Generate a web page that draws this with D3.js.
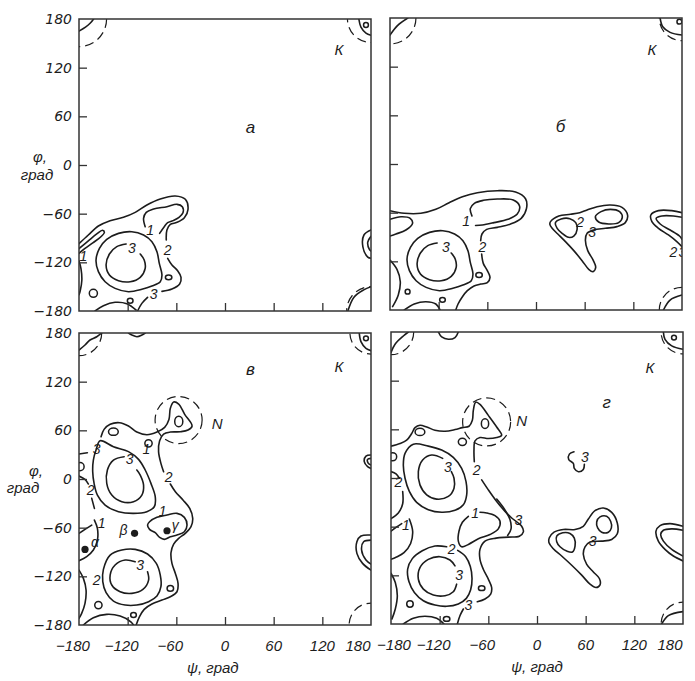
<!DOCTYPE html>
<html>
<head>
<meta charset="utf-8">
<script src="https://cdn.jsdelivr.net/npm/d3@7"></script>
<style>
body { margin: 0; background: #fff; }
</style>
</head>
<body>
<script>
// ticks (degrees)
var tickValues = [-180, -120, -60, 0, 60, 120, 180];
var innerTicks = [-120, -60, 0, 60, 120];

// ---------- shared left region of а and б ----------
var ringAB = [[-145.8,-91.7],[-131.3,-84.3],[-114.9,-82.2],[-100.4,-86.3],[-90.1,-94.5],[-83.9,-106.9],[-81,-121.3],[-77.7,-135.6],[-79.8,-143.9],[-90.1,-149.2],[-102.5,-153.3],[-119,-156.2],[-135.5,-152.1],[-147.8,-143.9],[-156.1,-131.5],[-159,-117.1],[-154.8,-102.8]];
var coreAB = [[-121.9,-97.4],[-133.4,-100.7],[-142.5,-109.7],[-146.6,-123.3],[-142.5,-135.6],[-131.3,-142.6],[-116.9,-143.9],[-104.5,-138.5],[-98.4,-127.4],[-99.6,-117.1],[-104.5,-109.7]];

// ---------- panel а ----------
var aOpen = [
  [[-180,-97],[-168.5,-86.3],[-156.1,-75.2],[-141.7,-68.6],[-125.2,-64.5],[-110.7,-58.4],[-96.3,-49.3],[-79.8,-41.9],[-61.3,-38.2],[-48.9,-42.3],[-45.6,-54.7],[-50.1,-65],[-59.2,-70.7],[-67.4,-73.2],[-71.6,-80.2],[-72.4,-92.5]],
  [[-70.7,-115.1],[-65.4,-123.3],[-58.4,-130.3],[-54.2,-138.5],[-55.9,-146.7],[-65.4,-152.9],[-77.7,-155.8]],
  [[-95.5,-163.2],[-102.5,-170.6],[-107.8,-180]],
  [[-98.4,-76],[-100.4,-65.8],[-97.1,-58.4],[-88,-54.3],[-71.6,-51.4],[-59.2,-48.5],[-52.6,-51.4],[-51.8,-58.8],[-56.7,-64.5],[-64.1,-68.6],[-70.7,-71.1],[-74.9,-76],[-80.6,-84.3]],
  [[-180,-103],[-168.5,-93.5],[-158.1,-85],[-151.1,-80.5],[-148.7,-83],[-153,-88.5],[-163,-96],[-173,-103],[-180,-109]],
  [[-180,-118],[-177.5,-128],[-176.5,-142],[-178.5,-155],[-180,-160]],
  [[-160.2,-180],[-149.9,-173.5],[-135.5,-169.3],[-121,-171],[-109.5,-178.8]],
  [[-180,165],[-172,170],[-166,175],[-162,180]],
  [[165,180],[167.6,170],[173.8,162.7],[180,160]],
  [[151.5,-180],[159,-163],[171,-154],[180,-150]],
  [[180,-80],[171.3,-86.3],[170,-101],[176,-113.5],[180,-115]],
  [[180,-88],[176,-95],[178,-104],[180,-106]],
  coreAB
];
var aClosed = [ringAB];
var aLoops = [[-69.5,-138.5,4,3],[-116.9,-167.3,3.5,3],[-162.3,-158.2,5,5],[173.8,172.6,3,3]];
var aDashed = [[-180,180,34],[180,180,29],[180,-180,30]];
var aLabels = [[140.4,141.8,"К"],[-92.2,-80.2,"1"],[-70.7,-104.8,"2"],[-114.9,-102.8,"3"],[-88.1,-159.5,"3"],[-174.6,-112.2,"1"]];

// ---------- panel б ----------
var bOpen = [
  [[-180,-57.6],[-162.4,-60.8],[-141.9,-60.8],[-123.5,-55.9],[-107.1,-47.7],[-90.7,-40.3],[-72.3,-35.4],[-47.7,-32.9],[-25.2,-34.5],[-12.9,-42.8],[-11.7,-54.7],[-18.2,-67],[-31.3,-74],[-47.7,-78.1],[-60.8,-80.6],[-66.6,-86.3],[-68.2,-94.5]],
  [[-67,-111],[-65,-122.5],[-60,-131.5],[-56.7,-139.8],[-60,-146.3],[-68.2,-148],[-76.4,-150.4],[-84.6,-156.2],[-90.7,-163.6],[-96.1,-172.6],[-98.9,-180]],
  [[-79,-64],[-81,-55],[-76,-48.5],[-65,-44.8],[-47.7,-43.2],[-28,-44.4],[-20.3,-51.8],[-23.1,-61.7],[-34.6,-68.2],[-51.8,-72.3],[-66.2,-75.2],[-74.5,-75.8]],
  [[-180,-68.2],[-166.5,-65],[-155.1,-67],[-152.2,-73.2],[-160.4,-81.4],[-172.7,-86.3],[-180,-88.8]],
  [[-180,-118.4],[-171.4,-129.9],[-167.3,-145.1],[-169.8,-161.5],[-176.8,-175.9]],
  [[-162.4,-180],[-150.1,-172.6],[-135.8,-169.8],[-123.5,-172.6],[-118.2,-180]],
  [[-180,159],[-170.5,171],[-158,180]],
  [[153,180],[156.3,169.3],[165.3,162.3],[180,159]],
  [[157.1,-180],[165.3,-167.7],[180,-161.5]],
  [[180,-60],[167.4,-57.5],[151,-57.5],[141.6,-62.9],[142.9,-71.1],[151,-79.3],[163.3,-87.5],[173.6,-95.7],[180,-101.9]],
  [[180,-65.7],[169.5,-64.1],[155.1,-64.1],[148.2,-67],[153.1,-74],[165.4,-81.4],[176.9,-88.8],[180,-92.9]],
  coreAB
];
var bClosed = [
  ringAB,
  [[17.9,-71.1],[28.1,-64.1],[42.5,-62],[53.9,-60],[63,-56.7],[75.3,-52.6],[91.6,-50.5],[106,-53.4],[112.9,-62.9],[110.1,-72.3],[99.8,-77.2],[85.5,-79.3],[71.2,-81.4],[63,-85.5],[60.9,-93.7],[63.8,-106.8],[70.3,-118.3],[73.6,-127.4],[70.3,-132.7],[65,-129.8],[56.8,-119.2],[46.6,-106.8],[36.3,-95.7],[26.9,-86.3],[19.9,-79.3],[17.1,-74.4]],
  [[73.2,-64.9],[80.2,-58.7],[91.6,-55.9],[103.1,-58.7],[106.4,-65.7],[101.9,-72.3],[89.6,-73.9],[77.3,-71.5]],
  [[24,-72.3],[31,-67.8],[41.7,-67.4],[49,-72.3],[50.7,-80.5],[46.6,-88.8],[40,-90.4],[32.2,-85.5],[26.1,-79.3]]
];
var bLoops = [[-70.2,-136.9,4,3],[-115.3,-167.5,3.5,3],[-158.3,-157.4,3,3],[176.8,175.5,3,3]];
var bDashed = [[-180,180,32],[180,180,28],[180,-180,28]];
var bLabels = [[142.8,140.6,"К"],[-86,-70,"1"],[-66.2,-102.8,"2"],[-111.2,-102,"3"],[54.5,-71.5,"2"],[69.1,-84,"3"],[169.5,-108,"2"],[180.5,-108,"3"]];

// ---------- panel в ----------
var cOpen = [
  [[-180,30.8],[-169.7,32.4]],
  [[-152.8,52.2],[-149.1,61.2],[-141.6,67.4],[-130.1,69.4],[-119,65.3],[-108.7,57.9],[-96.3,54.6],[-83.9,57.9],[-74.4,63.7],[-69.1,73.5],[-67.4,87.1],[-63.3,94.9],[-57.1,92.4],[-49.7,79.7],[-40.6,65.3],[-45.6,60.4],[-55,58.3],[-67.4,57.9],[-75.7,55.4],[-80.6,47.2],[-81.9,33.7],[-79,19.3],[-75.7,9]],
  [[-67.4,-6.2],[-61.2,-15.7],[-51.8,-25.9],[-43.5,-36.2],[-39.8,-48.5],[-41.9,-58.8],[-48.9,-67],[-57.1,-73.2],[-63.3,-80.2],[-66.6,-90.9],[-65.4,-104],[-61.2,-116.4],[-57.9,-128.7],[-59.2,-139],[-67.4,-145.1],[-77.7,-149.2],[-90.1,-154.2],[-99.6,-160.7],[-105.4,-169.8],[-109.5,-180]],
  [[-124.3,27.5],[-137.5,23.4],[-145,11.1],[-145.8,-5.4],[-139.6,-19.8],[-127.2,-28],[-112.8,-28],[-102.5,-19.8],[-100.4,-7.4],[-104.5,4.9],[-108.7,11.1]],
  [[-110.7,-102],[-123.1,-99.9],[-135.5,-106.1],[-141.6,-118.4],[-139.6,-130.7],[-129.3,-139],[-114.8,-141],[-101.2,-136.1],[-94.2,-124.6],[-95.5,-114.3]],
  [[-180,3.7],[-172.6,-0.5],[-168.4,-6.2]],
  [[-164.3,-23.9],[-161,-36.2]],
  [[-161,-50.6],[-157.3,-60.9],[-157.3,-75.3],[-162.3,-87.6],[-170.5,-95.8],[-180,-100.7]],
  [[-180,-67],[-172.6,-62.1],[-164.3,-56.8]],
  [[-180,-112.3],[-174.6,-122.5],[-171.3,-136.9],[-172.6,-153.4],[-176.7,-165.7],[-180,-171.8]],
  [[-174.6,-180],[-162.3,-171],[-145.8,-166.9],[-129.3,-169],[-116.1,-176],[-112.8,-180]],
  [[-180,159],[-172.6,165.2],[-166.4,171.4],[-158.1,175.4],[-152,180]],
  [[-119,180],[-114.8,177.5],[-108.6,175.4],[-102.4,177.5],[-98.4,180]],
  [[165.5,180],[167.6,169.3],[173.8,161.1],[180,158.2]],
  [[180,29.5],[173.8,28.3],[171.7,21.3],[175.8,15.2],[180,13.1]],
  [[180,25.4],[175.8,24.2],[176.7,19.3],[180,17.2]],
  [[180,-69.1],[167.6,-70.3],[162.6,-77.3],[162.6,-91.7],[169.6,-104],[180,-112.3]],
  [[180,-75.3],[170.9,-77.3],[168.4,-87.6],[173.8,-99.9],[180,-104.9]]
];
var cClosed = [
  [[-154,47.2],[-137.5,39.8],[-119,33.7],[-106.6,24.2],[-98.4,11.1],[-91.3,-5.4],[-86,-21.8],[-87.2,-34.2],[-96.3,-40.3],[-112.8,-42.4],[-131.3,-40.3],[-147.8,-32.1],[-157.3,-19.8],[-161.4,-5.4],[-163.1,9],[-162.3,23.4],[-159,35.7]],
  [[-141.6,-93.8],[-127.2,-87.6],[-110.7,-86.8],[-95.5,-92.5],[-84.7,-104],[-79.8,-118.4],[-79,-132.8],[-83.9,-144.3],[-94.2,-151.3],[-108.7,-155.4],[-123.1,-155.4],[-137.5,-150.5],[-146.6,-140.2],[-150.7,-126.6],[-149.9,-111.4]],
  [[-93,-52.7],[-83.9,-47.3],[-71.5,-44.4],[-59.2,-42.4],[-50.1,-47.3],[-46.8,-56.8],[-50.1,-65],[-59.2,-69.1],[-67.4,-71.2],[-74.8,-74.4],[-80.6,-72],[-86,-66.2],[-93,-62.1],[-95.5,-56.8]]
];
var cLoops = [[-57,71,5,6.5],[-137.6,58.3,6,4.5],[-94.3,44,4.5,4.5],[-178.7,15.2,5,5],[-67.4,-134.9,4,3.5],[-156.1,-155.4,4.5,4.5],[-112.8,-167.7,3.5,3],[173.8,173.4,3,3]];
var cDashed = [[-180,180,28],[180,180,26],[180,-180,27],[-57.2,72.7,29]];
var cLabels = [[140.4,138.4,"К"],[-9.7,68.6,"N"],[-158.1,36.5,"3"],[-117.7,24.2,"3"],[-69.5,2.8,"2"],[-165.6,-13.6,"2"],[-152,-54.7,"1"],[-77,-39,"1"],[-158.1,-124.6,"2"],[-104.5,-106.1,"3"],[-97,37,"1"],[-160.2,-77.3,"α"],[-125.2,-63,"β"],[-61.2,-56.8,"γ"]];
var cPoints = [[-172.6,-86.8],[-111.5,-67],[-71.5,-63.8]];

// ---------- panel г ----------
var dOpen = [
  [[-180,39.3],[-168.9,42.5],[-160.7,46.6],[-154.5,54.8],[-150.4,62.1],[-144.3,65],[-136,62.9],[-125.8,58.9],[-113.4,57.6],[-101.1,59.7],[-92,62.1],[-83.8,63.8],[-79.7,71.1],[-78.5,83.3],[-75.6,93.5],[-70.3,90.7],[-60,77.2],[-49.7,62.9],[-43.6,52.7],[-49.7,49.9],[-60,48.7],[-70.3,49.9],[-76.4,45.8],[-77.7,34.4],[-77.3,20.1]],
  [[-68.2,-2.3],[-60,-14.6],[-49.7,-28.9],[-39.4,-41.1],[-31.2,-49.3],[-18.9,-59.5],[-16.8,-66.4],[-21.8,-71.7],[-35.3,-72.9],[-50.5,-74.1],[-64.1,-77.8],[-70.3,-88],[-70.3,-100.3],[-66.2,-112.5],[-60,-124.7],[-55.9,-135],[-57.1,-143.1],[-64.1,-149.2],[-73.6,-152.5]],
  [[-90.8,-161.5],[-94.9,-169.6],[-98.2,-180]],
  [[-49.7,-26],[-40.3,-38.2],[-33.3,-51.3],[-32,-62.7],[-36.2,-70.9]],
  [[-116.3,24.2],[-129.9,28.3],[-141,22.1],[-146.3,7.9],[-144.3,-8.5],[-136,-20.7],[-123.7,-26],[-109.3,-22.7],[-102.3,-12.5],[-102.3,-0.3],[-105.6,7.9]],
  [[-97.8,-89.2],[-87.9,-97],[-82.2,-109.2],[-80.1,-123.9],[-81.8,-137.8],[-87.1,-148.4],[-97,-155.3],[-111.4,-158.2],[-125.8,-156.6],[-140.1,-151.3],[-151.2,-141.1],[-157.8,-128],[-159.5,-112.5],[-153.7,-99.4],[-141.4,-89.7],[-125.8,-83.9],[-111.4,-84.8]],
  [[-101.1,-108.4],[-107.3,-101.1],[-119.6,-97],[-134,-100.3],[-144.3,-110.5],[-146.3,-124.7],[-140.1,-137],[-127.8,-144.3],[-113.4,-145.1],[-103.2,-140.2],[-99.1,-130.9]],
  [[-84.6,-47.2],[-92,-54.6],[-96.2,-65.6],[-97,-77.8],[-92.9,-84.8],[-84.6,-81.9],[-72.3,-75],[-57.9,-69.7],[-47.7,-62.7],[-45.6,-53.3],[-51.8,-46.4],[-62.1,-43.1],[-70.3,-42.3]],
  [[-180,7.9],[-173.8,5],[-169.7,-0.3]],
  [[-165.6,-16.6],[-165.6,-31.7],[-171,-43.1],[-180,-50.1]],
  [[-157.4,-50.5],[-153.3,-65.6],[-155.8,-80.7],[-164,-92.1],[-173.8,-97.8],[-180,-100.3]],
  [[-180,-65.6],[-173,-60.3],[-166.8,-56.2]],
  [[-180,-117.4],[-174.7,-128.8],[-172.2,-145.1],[-174.7,-161.5],[-178.8,-173.7]],
  [[-164.8,-180],[-152.5,-172.9],[-138.1,-170.4],[-123.7,-172.9],[-114.7,-180]],
  [[-121.6,180],[-117.5,173.9],[-109.3,171],[-101.1,173.1],[-97,180]],
  [[-180,154.7],[-175,165],[-164.8,175.1],[-158.6,180]],
  [[155.8,180],[157.8,171],[166.1,162.9],[180,158.8]],
  [[153.7,-180],[161.9,-169.6],[180,-164.7]],
  [[45.6,32.3],[39.9,29.4],[39.1,22.9],[44.8,18],[46,11.9],[51,7.8],[57.1,10.6],[58.4,16.8]],
  [[180,-59.5],[164,-56.2],[151.7,-58.7],[146.7,-65.6],[149.6,-77.8],[157.8,-88],[168.1,-96.2],[180,-102.3]],
  [[180,-64.4],[166.1,-62.7],[155.8,-64.4],[152.5,-69.7],[155.8,-77.8],[166.1,-88],[180,-96.2]]
];
var dClosed = [
  [[-152.5,41.7],[-134,39.3],[-117.5,34.4],[-103.2,25.4],[-92.9,11.9],[-87.5,-4.4],[-86.7,-20.7],[-90.8,-33],[-101.1,-39.9],[-117.5,-42.3],[-134,-39.1],[-148.4,-30.1],[-157.4,-16.6],[-162.7,-0.3],[-164.8,16],[-162.7,30.3]],
  [[15.2,-73.7],[21,-66.8],[32.5,-63.5],[46.9,-63.5],[57.1,-59.5],[63.3,-50.5],[71.5,-40.3],[81.8,-37],[92.1,-42.3],[99,-55.4],[99,-68.8],[92.1,-75.8],[79.7,-77.8],[65.4,-79],[59.2,-84.8],[57.1,-94.1],[61.3,-106.4],[69.5,-115.8],[76.9,-123.9],[77.7,-131.7],[72.8,-135],[65.4,-130.9],[55.1,-119.8],[42.8,-107.6],[30.4,-96.2],[20.1,-87.2],[14.8,-79.9]],
  [[24.3,-71.7],[31.7,-67.6],[40.7,-68.4],[46,-74.1],[46.9,-83.9],[43.6,-91.3],[36.6,-90],[28.4,-84.8],[24.3,-78.6]],
  [[73.6,-54.2],[77.7,-48],[85.9,-47.2],[90.8,-53.3],[91.7,-61.5],[88,-66.8],[79.7,-66.8],[74.8,-61.5]]
];
var dLoops = [[-64.1,67,4.5,6],[-144.3,56.8,6,4.5],[-92,44.6,5,4.5],[-178,26.2,5,5],[-68.2,-135.8,4,3],[-156.6,-155.3,4,4],[-111.4,-173.7,4,3],[168.9,173.1,3,3]];
var dDashed = [[-180,180,28],[180,180,27],[180,-180,27],[-62.1,69.1,29.6]];
var dLabels = [[139.3,136.4,"К"],[-18.9,71.1,"N"],[-109.7,14,"3"],[-74.4,9.9,"2"],[-171,-4.4,"2"],[-161.5,-57.4,"1"],[-76.4,-43.1,"1"],[-105.2,-87.2,"2"],[-96.1,-119.8,"3"],[-84.7,-156.6,"3"],[-23,-51.3,"3"],[59.2,26.1,"3"],[68.6,-77.8,"3"]];

// panel letters
var letters = ["а", "б", "в", "г"];
var letterPos = [[31.5,46.8],[30.1,46],[31.5,134.4],[86,93.5]];

// ---------- layout ----------
var SIZE = 292;
var layout = [
  {x0: 79,  y0: 19,  open: aOpen, closed: aClosed, loops: aLoops, dashed: aDashed, labels: aLabels, points: [], left: true,  bottom: false},
  {x0: 390, y0: 18,  open: bOpen, closed: bClosed, loops: bLoops, dashed: bDashed, labels: bLabels, points: [], left: false, bottom: false},
  {x0: 79,  y0: 333, open: cOpen, closed: cClosed, loops: cLoops, dashed: cDashed, labels: cLabels, points: cPoints, left: true,  bottom: true},
  {x0: 391, y0: 332, open: dOpen, closed: dClosed, loops: dLoops, dashed: dDashed, labels: dLabels, points: [], left: false, bottom: true}
];

var INK = "#1c1c1c";
var ITALIC = "'Liberation Sans', 'DejaVu Sans', sans-serif";

var svg = d3.select("body").append("svg")
  .attr("width", 695).attr("height", 681)
  .style("font-family", ITALIC).style("font-style", "italic");

layout.forEach(function(p, i) {
  var x = d3.scaleLinear().domain([-180, 180]).range([p.x0, p.x0 + SIZE]);
  var y = d3.scaleLinear().domain([-180, 180]).range([p.y0 + SIZE, p.y0]);

  svg.append("clipPath").attr("id", "clip" + i)
    .append("rect").attr("x", p.x0).attr("y", p.y0).attr("width", SIZE).attr("height", SIZE);

  var g = svg.append("g").attr("clip-path", "url(#clip" + i + ")");

  var lineOpen = d3.line().x(function(d) { return x(d[0]); }).y(function(d) { return y(d[1]); })
    .curve(d3.curveCatmullRom.alpha(0.5));
  var lineClosed = d3.line().x(function(d) { return x(d[0]); }).y(function(d) { return y(d[1]); })
    .curve(d3.curveCatmullRomClosed.alpha(0.5));

  // dashed circles
  g.selectAll(".dash").data(p.dashed).enter().append("ellipse")
    .attr("cx", function(d) { return x(d[0]); })
    .attr("cy", function(d) { return y(d[1]); })
    .attr("rx", function(d) { return x(d[2]) - x(0); })
    .attr("ry", function(d) { return y(0) - y(d[2]); })
    .attr("fill", "none").attr("stroke", INK).attr("stroke-width", 1.2)
    .attr("stroke-dasharray", "9,5");

  g.selectAll(".open").data(p.open).enter().append("path")
    .attr("d", lineOpen)
    .attr("fill", "none").attr("stroke", INK).attr("stroke-width", 1.6)
    .attr("stroke-linecap", "round");

  g.selectAll(".closed").data(p.closed).enter().append("path")
    .attr("d", lineClosed)
    .attr("fill", "none").attr("stroke", INK).attr("stroke-width", 1.6);

  g.selectAll(".loop").data(p.loops).enter().append("ellipse")
    .attr("cx", function(d) { return x(d[0]); })
    .attr("cy", function(d) { return y(d[1]); })
    .attr("rx", function(d) { return x(d[2]) - x(0); })
    .attr("ry", function(d) { return y(0) - y(d[3]); })
    .attr("fill", "none").attr("stroke", INK).attr("stroke-width", 1.5);

  g.selectAll(".pt").data(p.points).enter().append("circle")
    .attr("cx", function(d) { return x(d[0]); })
    .attr("cy", function(d) { return y(d[1]); })
    .attr("r", 3.6).attr("fill", INK);

  g.selectAll(".lbl").data(p.labels).enter().append("text")
    .attr("x", function(d) { return x(d[0]); })
    .attr("y", function(d) { return y(d[1]); })
    .attr("text-anchor", "middle").attr("dominant-baseline", "central")
    .attr("font-size", function(d) { return d[2] === "К" || d[2] === "N" ? 15 : 14; })
    .attr("fill", INK)
    .text(function(d) { return d[2]; });

  g.append("text")
    .attr("x", x(letterPos[i][0])).attr("y", y(letterPos[i][1]))
    .attr("text-anchor", "middle").attr("dominant-baseline", "central")
    .attr("font-size", 17).attr("fill", INK)
    .text(letters[i]);

  // frame
  svg.append("rect").attr("x", p.x0).attr("y", p.y0).attr("width", SIZE).attr("height", SIZE)
    .attr("fill", "none").attr("stroke", "#333").attr("stroke-width", 1.5);

  // inward ticks
  var yAxis = d3.axisLeft(y).tickValues(innerTicks).tickSizeInner(-8).tickSizeOuter(0).tickFormat("");
  var xAxis = d3.axisBottom(x).tickValues(innerTicks).tickSizeInner(-8).tickSizeOuter(0).tickFormat("");
  svg.append("g").attr("transform", "translate(" + p.x0 + ",0)").call(yAxis)
    .call(function(s) { s.select(".domain").remove(); s.selectAll("line").attr("stroke", "#333").attr("stroke-width", 1.3); });
  svg.append("g").attr("transform", "translate(0," + (p.y0 + SIZE) + ")").call(xAxis)
    .call(function(s) { s.select(".domain").remove(); s.selectAll("line").attr("stroke", "#333").attr("stroke-width", 1.3); });

  var fmt = function(v) { return v < 0 ? "\u2212" + Math.abs(v) : String(v); };

  if (p.left) {
    svg.append("g").selectAll("text").data(tickValues).enter().append("text")
      .attr("x", p.x0 - 7).attr("y", function(d) { return y(d); })
      .attr("text-anchor", "end").attr("dominant-baseline", "central")
      .attr("font-family", "'DejaVu Sans', sans-serif").attr("font-size", 14).attr("fill", INK)
      .text(fmt);
  }
  if (p.bottom) {
    // labels nudged as in the original: minus hangs left, the last 180 moves in
    var shift = function(d) {
      if (d === 180) return -13;
      if (d === -180 && !p.left) return 3;
      return d < 0 ? -6 : 0;
    };
    svg.append("g").selectAll("text").data(tickValues).enter().append("text")
      .attr("x", function(d) { return x(d) + shift(d); })
      .attr("y", p.y0 + SIZE + 26)
      .attr("text-anchor", "middle")
      .attr("font-size", 15).attr("fill", INK)
      .text(fmt);
    svg.append("text")
      .attr("x", x(i === 2 ? -15 : 0)).attr("y", p.y0 + SIZE + 48)
      .attr("text-anchor", "middle").attr("font-size", 15).attr("fill", INK)
      .text("\u03c8, град");
  }
});

// phi axis titles
var phiTitles = [[40, 162, 37, 180], [36, 476, 23, 493]];
phiTitles.forEach(function(t) {
  svg.append("text").attr("x", t[0]).attr("y", t[1]).attr("text-anchor", "middle")
    .attr("font-size", 15).attr("fill", INK).text("\u03c6,");
  svg.append("text").attr("x", t[2]).attr("y", t[3]).attr("text-anchor", "middle")
    .attr("font-size", 15).attr("fill", INK).text("град");
});
</script>
</body>
</html>
